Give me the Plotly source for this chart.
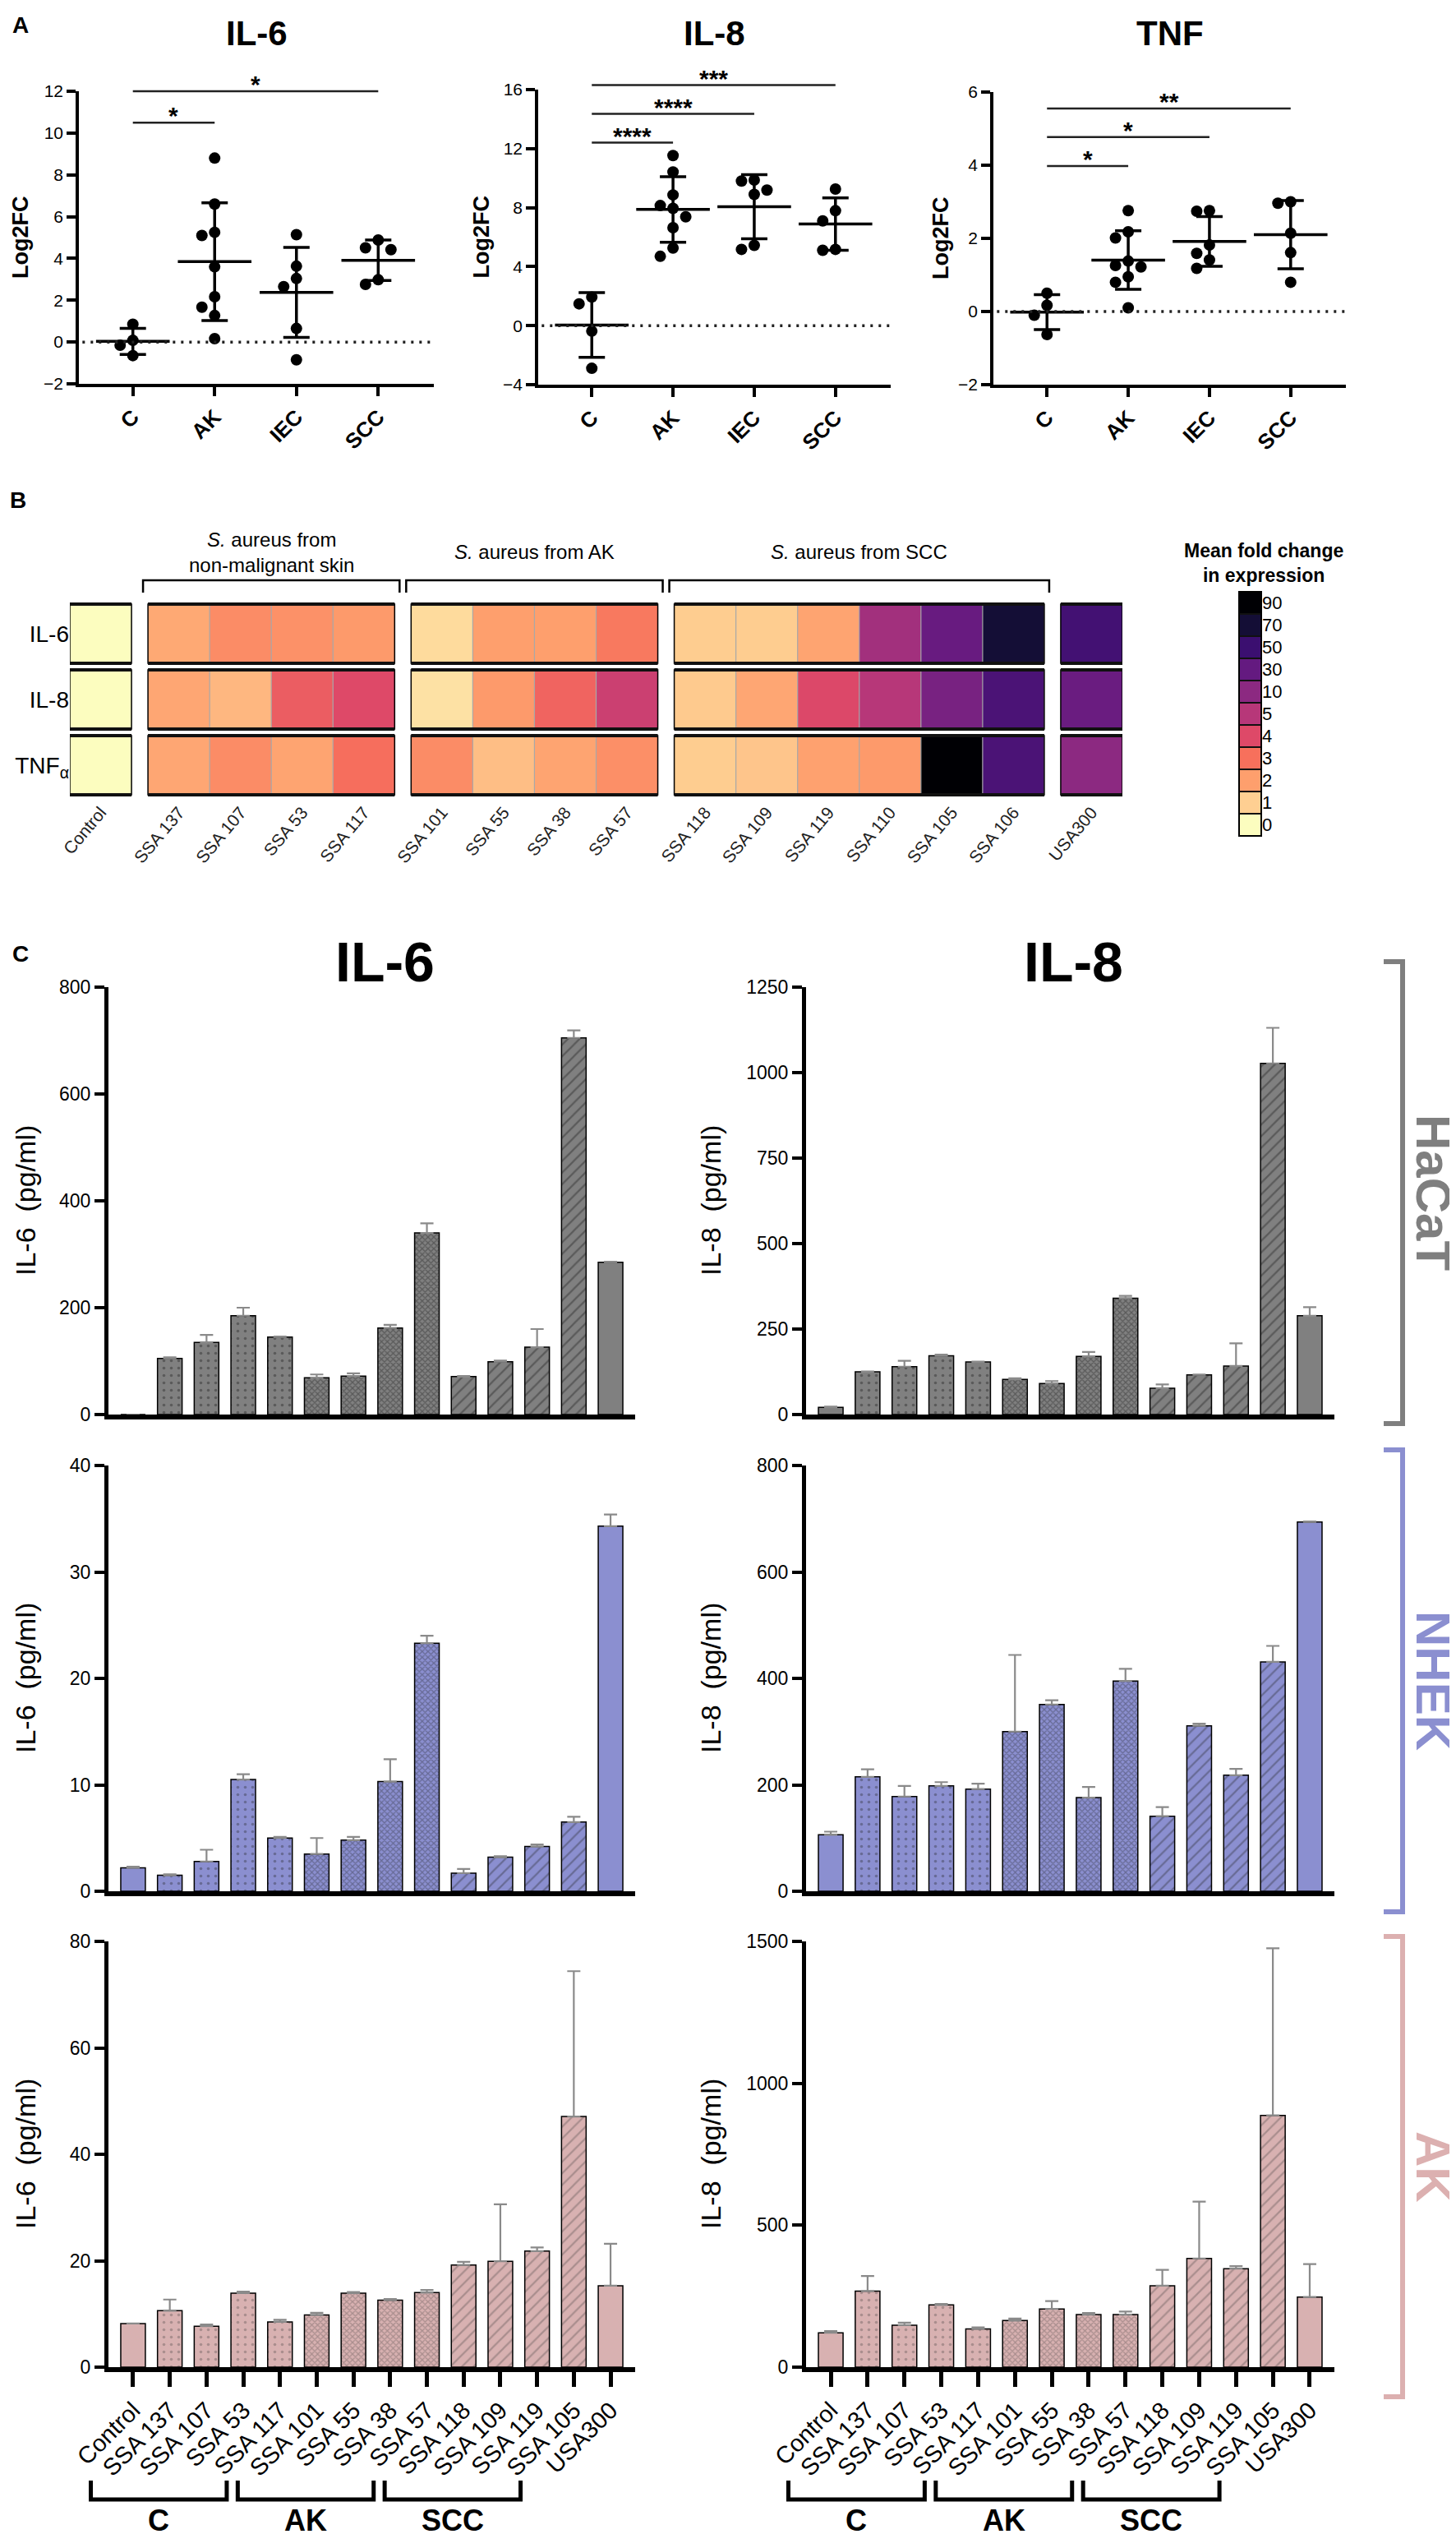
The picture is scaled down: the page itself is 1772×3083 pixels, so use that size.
import numpy as np
import plotly.graph_objects as go

W, H = 1772, 3083
FONT = "Liberation Sans, Arial, sans-serif"

# ---------------- Panel A data (Log2FC) ----------------
a_groups = ["C", "AK", "IEC", "SCC"]
il6_C = [0.85, 0.08, -0.15, -0.65]
il6_AK = [8.8, 6.6, 5.1, 5.25, 3.6, 2.17, 1.67, 1.27, 0.16]
il6_IEC = [5.14, 3.63, 3.04, 2.65, 0.65, -0.85]
il6_SCC = [4.88, 4.42, 4.51, 2.98, 2.76]
il8_C = [1.48, 1.94, -0.37, -2.89]
il8_AK = [11.53, 10.42, 8.86, 7.95, 8.14, 7.38, 6.64, 5.26, 4.7]
il8_IEC = [9.87, 9.8, 9.19, 8.9, 5.17, 5.44]
il8_SCC = [9.26, 7.79, 7.1, 5.17, 5.11]
tnf_C = [0.5, 0.17, -0.1, -0.63]
tnf_AK = [2.76, 2.18, 2.01, 1.38, 1.22, 1.26, 0.95, 0.8, 0.1]
tnf_IEC = [2.74, 2.76, 1.82, 1.59, 1.41, 1.18]
tnf_SCC = [3.0, 2.96, 2.14, 1.61, 0.8]
# significance: (compared group index vs C, bar level, label)
sig_il6 = [(1, 10.5, "*"), (3, 12.0, "*")]
sig_il8 = [(1, 12.4, "****"), (2, 14.35, "****"), (3, 16.3, "***")]
sig_tnf = [(1, 3.98, "*"), (2, 4.77, "*"), (3, 5.55, "**")]

# ---------------- Panel B data (mean fold change) ----------------
hm_columns = ["Control", "SSA 137", "SSA 107", "SSA 53", "SSA 117",
              "SSA 101", "SSA 55", "SSA 38", "SSA 57",
              "SSA 118", "SSA 109", "SSA 119", "SSA 110", "SSA 105", "SSA 106",
              "USA300"]
hm_group_sizes = [1, 4, 4, 6, 1]
hm_group_titles = ["", "<i>S.</i> aureus from<br>non-malignant skin",
                   "<i>S.</i> aureus from AK", "<i>S.</i> aureus from SCC", ""]
hm_rows = ["IL-6", "IL-8", "TNF<sub>α</sub>"]
hm_il6 = [0, 1.8, 2.4, 2.3, 2.1, 0.75, 2.0, 2.0, 2.8, 1.05, 1.05, 1.9, 7.5, 28, 70, 46]
hm_il8 = [0, 1.85, 1.5, 3.5, 4.0, 0.6, 2.1, 3.3, 4.5, 1.1, 1.85, 4.05, 5.05, 20, 42, 27]
hm_tnf = [0, 1.85, 2.4, 1.9, 3.05, 2.4, 1.35, 1.9, 2.35, 1.05, 1.2, 1.95, 2.1, 90, 42, 10]
cb_levels = [0, 1, 2, 3, 4, 5, 10, 30, 50, 70, 90]
magma = ["#fcfdbf", "#fecf92", "#fe9f6d", "#f7705c", "#de4968", "#b73779",
         "#8c2981", "#641a80", "#3b0f70", "#140e36", "#000004"]

# ---------------- Panel C data (pg/ml, mean and upper error) ----------------
c_strains = ["Control", "SSA 137", "SSA 107", "SSA 53", "SSA 117", "SSA 101", "SSA 55",
             "SSA 38", "SSA 57", "SSA 118", "SSA 109", "SSA 119", "SSA 105", "USA300"]
c_source = ["", "C", "C", "C", "C", "AK", "AK", "AK", "AK", "SCC", "SCC", "SCC", "SCC", ""]
hacat_il6 = [0, 105, 135, 185, 145, 69, 72, 162, 340, 71, 99, 126, 705, 285]
hacat_il6_err = [0, 2, 14, 15, 1, 6, 5, 6, 18, 1, 2, 34, 14, 1]
hacat_il8 = [21, 125, 140, 172, 154, 103, 91, 170, 340, 77, 116, 142, 1027, 289]
hacat_il8_err = [2, 1, 17, 3, 1, 3, 7, 13, 7, 11, 1, 66, 104, 25]
nhek_il6 = [2.2, 1.5, 2.8, 10.5, 5.0, 3.5, 4.8, 10.3, 23.3, 1.7, 3.2, 4.2, 6.5, 34.3]
nhek_il6_err = [0.1, 0.1, 1.1, 0.5, 0.1, 1.5, 0.3, 2.1, 0.7, 0.4, 0.1, 0.2, 0.5, 1.1]
nhek_il8 = [106, 215, 178, 198, 192, 300, 351, 176, 395, 141, 311, 218, 431, 694]
nhek_il8_err = [6, 14, 20, 7, 10, 144, 8, 20, 23, 17, 4, 12, 30, 1]
ak_il6 = [8.2, 10.6, 7.7, 13.9, 8.5, 9.8, 13.9, 12.6, 14.0, 19.2, 19.9, 21.8, 47.1, 15.3]
ak_il6_err = [0, 2.1, 0.3, 0.3, 0.4, 0.4, 0.2, 0.2, 0.5, 0.6, 10.7, 0.7, 27.3, 7.9]
ak_il8 = [121, 268, 148, 219, 135, 164, 205, 185, 185, 287, 383, 347, 887, 247]
ak_il8_err = [6, 53, 9, 4, 5, 7, 28, 6, 11, 56, 200, 9, 589, 116]

# ======================================================================
fig = go.Figure()
axes = {}
shapes = []
annos = []


def X(px):
    return px / W


def Y(py):
    return 1 - py / H


def an(n):
    return "" if n == 1 else str(n)


def add_axes(n, xpx, ypx, xr, yr, xkw=None, ykw=None):
    xa = dict(domain=[X(xpx[0]), X(xpx[1])], range=xr, anchor="y" + an(n),
              showgrid=False, zeroline=False, automargin=False)
    ya = dict(domain=[Y(ypx[1]), Y(ypx[0])], range=yr, anchor="x" + an(n),
              showgrid=False, zeroline=False, automargin=False)
    xa.update(xkw or {})
    ya.update(ykw or {})
    axes["xaxis" + an(n)] = xa
    axes["yaxis" + an(n)] = ya
    return "x" + an(n), "y" + an(n)


def text(xpx, ypx, s, size, bold=False, color="black", angle=0, xanchor="center",
         yanchor="middle", yshift=0):
    if bold:
        s = "<b>" + s + "</b>"
    annos.append(dict(x=X(xpx), y=Y(ypx), xref="paper", yref="paper", text=s,
                      showarrow=False, textangle=angle, xanchor=xanchor, yanchor=yanchor,
                      yshift=yshift, font=dict(size=size, color=color, family=FONT)))


def swarm(vals, px_cat, px_unit, diam=14.5, step=15.5):
    order = np.argsort(vals)[::-1]
    placed = []
    offs = [0.0] * len(vals)
    for i in order:
        y = vals[i] * px_unit
        x = 0.0
        for k in [0, -1, 1, -2, 2, -3, 3]:
            x = k * step
            if all((x - p) ** 2 + (y - q) ** 2 >= diam ** 2 for p, q in placed):
                break
        placed.append((x, y))
        offs[i] = x / px_cat
    return offs


# ---------------- Panel A ----------------
XR_A = [-0.66, 3.68]
a_panels = [
    dict(title="IL-6", data=[il6_C, il6_AK, il6_IEC, il6_SCC], yr=[-2, 12], dt=2,
         sig=sig_il6, xpx=(88, 520), ypx=(103, 459), ylab=17),
    dict(title="IL-8", data=[il8_C, il8_AK, il8_IEC, il8_SCC], yr=[-4, 16], dt=4,
         sig=sig_il8, xpx=(647, 1076), ypx=(101, 460), ylab=578),
    dict(title="TNF", data=[tnf_C, tnf_AK, tnf_IEC, tnf_SCC], yr=[-2, 6], dt=2,
         sig=sig_tnf, xpx=(1201, 1630), ypx=(104, 460), ylab=1137),
]
for i, p in enumerate(a_panels):
    n = i + 1
    xr_, yr_ = add_axes(
        n, p["xpx"], p["ypx"], XR_A, p["yr"],
        xkw=dict(showline=True, linewidth=3.5, linecolor="black", ticks="outside",
                 ticklen=11, tickwidth=3.5, tickcolor="black",
                 tickvals=list(range(4)), ticktext=["<b>%s</b>" % g for g in a_groups],
                 tickangle=-45, tickfont=dict(size=26, family=FONT, color="black")),
        ykw=dict(showline=True, linewidth=3.5, linecolor="black", ticks="outside",
                 ticklen=11, tickwidth=3.5, tickcolor="black",
                 tickvals=list(range(p["yr"][0], p["yr"][1] + 1, p["dt"])),
                 tickfont=dict(size=21, family=FONT, color="black")))
    px_cat = (p["xpx"][1] - p["xpx"][0]) / (XR_A[1] - XR_A[0])
    px_unit = (p["ypx"][1] - p["ypx"][0]) / (p["yr"][1] - p["yr"][0])

    def cxp(u, p=p, px_cat=px_cat):
        return p["xpx"][0] + (u - XR_A[0]) * px_cat

    def cyp(v, p=p, px_unit=px_unit):
        return p["ypx"][1] - (v - p["yr"][0]) * px_unit

    shapes.append(dict(type="line", xref=xr_ + " domain", yref=yr_, x0=0.01, x1=1,
                       y0=0, y1=0, line=dict(color="#222", width=3.5, dash="3px,7px")))
    for gi, vals in enumerate(p["data"]):
        offs = swarm(vals, px_cat, px_unit)
        fig.add_trace(go.Scatter(x=[gi + o for o in offs], y=vals, mode="markers",
                                 marker=dict(size=14, color="black"), xaxis=xr_, yaxis=yr_,
                                 showlegend=False, hoverinfo="skip"))
        m = float(np.mean(vals))
        sd = float(np.std(vals, ddof=1))
        fig.add_trace(go.Scatter(x=[gi], y=[m], mode="markers",
                                 marker=dict(symbol="line-ew", size=64, color="black",
                                             line=dict(width=3.5, color="black")),
                                 error_y=dict(type="data", array=[sd], color="black",
                                              thickness=3.5, width=16),
                                 xaxis=xr_, yaxis=yr_, showlegend=False, hoverinfo="skip"))
    for (to, lvl, stars) in p["sig"]:
        yy = Y(cyp(lvl))
        shapes.append(dict(type="line", xref="paper", yref="paper",
                           x0=X(cxp(0)), x1=X(cxp(to)), y0=yy, y1=yy,
                           line=dict(color="#222", width=2.5)))
        text(cxp(to / 2.0), cyp(lvl), stars, 30, bold=True, yanchor="bottom", yshift=-10)
    text((p["xpx"][0] + p["xpx"][1]) / 2, 33, p["title"], 42, bold=True)
    text(p["ylab"], (p["ypx"][0] + p["ypx"][1]) / 2, "Log2FC", 27, bold=True, angle=-90)

text(17, 23, "A", 28, bold=True)

# ---------------- Panel B ----------------
text(14, 600, "B", 28, bold=True)
gapu = 20 / 75.0
starts = []
s = 0.0
for n_ in hm_group_sizes:
    starts.append(s)
    s += n_ + gapu
total = s - gapu
HX = (77, 1358)
HY = (723, 963)


def hx(u):
    return HX[0] + u / total * (HX[1] - HX[0])


idx = list(range(len(cb_levels)))
Z = np.array([[float(np.interp(v, cb_levels, idx)) for v in row]
              for row in [hm_il6, hm_il8, hm_tnf]])
centers = []
for k, n_ in enumerate(hm_group_sizes):
    centers += [starts[k] + 0.5 + j for j in range(n_)]

hxr, hyr = add_axes(
    4, HX, HY, [0, total], [2.5, -0.5],
    xkw=dict(showline=False, ticks="", tickvals=centers, ticktext=hm_columns,
             tickangle=-50, tickfont=dict(size=21, family=FONT, color="#222")),
    ykw=dict(showline=False, ticks="", tickvals=[0, 1, 2], ticktext=hm_rows,
             tickfont=dict(size=28, family=FONT, color="black")))

col = 0
for k, n_ in enumerate(hm_group_sizes):
    xs = [starts[k] + 0.5 + j for j in range(n_)]
    fig.add_trace(go.Heatmap(x=xs, y=[0, 1, 2], z=Z[:, col:col + n_], coloraxis="coloraxis",
                             ygap=8, xaxis=hxr, yaxis=hyr, hoverinfo="skip"))
    col += n_
    for r in range(3):
        y0, y1 = r - 0.45, r + 0.45
        x0, x1 = starts[k], starts[k] + n_
        for j in range(1, n_):
            shapes.append(dict(type="line", xref=hxr, yref=hyr, x0=x0 + j, x1=x0 + j,
                               y0=y0, y1=y1, line=dict(color="#a8a8a8", width=1.2)))
        shapes.append(dict(type="rect", xref=hxr, yref=hyr, x0=x0, x1=x1, y0=y0, y1=y1,
                           line=dict(color="black", width=1.5)))
        for yy in (y0, y1):
            shapes.append(dict(type="line", xref=hxr, yref=hyr, x0=x0, x1=x1, y0=yy, y1=yy,
                               line=dict(color="#111", width=4)))
    if hm_group_titles[k]:
        bx0 = X(hx(starts[k]) - 6)
        bx1 = X(hx(starts[k] + n_) + 6)
        ya_, yb_ = Y(713), Y(698)
        shapes.append(dict(type="path", xref="paper", yref="paper",
                           path="M %f,%f L %f,%f L %f,%f L %f,%f" % (bx0, ya_, bx0, yb_, bx1, yb_, bx1, ya_),
                           line=dict(color="black", width=2.5)))
        text(hx(starts[k] + n_ / 2.0), 664, hm_group_titles[k], 24)

# colour key
cxr, cyr = add_axes(
    5, (1500, 1527), (712, 1009), [-0.5, 0.5], [-0.5, len(cb_levels) - 0.5],
    xkw=dict(visible=False),
    ykw=dict(side="right", showline=False, ticks="", tickvals=idx,
             ticktext=[str(v) for v in cb_levels],
             tickfont=dict(size=22, family=FONT, color="black")))
shapes.append(dict(type="rect", xref=cxr + " domain", yref=cyr + " domain", x0=0, x1=1,
                   y0=0, y1=1, fillcolor="#111", line=dict(width=0), layer="below"))
fig.add_trace(go.Heatmap(x=[0], y=idx, z=[[v] for v in idx], coloraxis="coloraxis", ygap=2,
                         xaxis=cxr, yaxis=cyr, hoverinfo="skip"))
shapes.append(dict(type="rect", xref=cxr + " domain", yref=cyr + " domain", x0=0, x1=1,
                   y0=0, y1=1, line=dict(color="black", width=2)))
text(1530, 677, "Mean fold change<br>in expression", 23, bold=True)

# ---------------- Panel C ----------------
text(17, 1152, "C", 28, bold=True)
text(460, 1162, "IL-6", 68, bold=True)
text(1298, 1162, "IL-8", 68, bold=True)

XR_C = [-0.67, 13.67]
c_pattern = ["", ".", ".", ".", ".", "x", "x", "x", "x", "/", "/", "/", "/", ""]
c_psize = [8, 9, 9, 9, 9, 5, 5, 5, 5, 10, 10, 10, 10, 8]
c_psol = [0.1, 0.13, 0.13, 0.13, 0.13, 0.45, 0.45, 0.45, 0.45, 0.22, 0.22, 0.22, 0.22, 0.1]
LEFT = (124, 765)
RIGHT = (973, 1616)
c_rows = [
    dict(name="HaCaT", ypx=(1193, 1713), il6=(hacat_il6, hacat_il6_err, 800, 200),
         il8=(hacat_il8, hacat_il8_err, 1250, 250), color="#808080", fg="#333333",
         tcolor="#7f7f7f", br=(1162, 1724)),
    dict(name="NHEK", ypx=(1775, 2293), il6=(nhek_il6, nhek_il6_err, 40, 10),
         il8=(nhek_il8, nhek_il8_err, 800, 200), color="#8b8fd0", fg="#44465a",
         tcolor="#8b8fd0", br=(1756, 2318)),
    dict(name="AK", ypx=(2354, 2872), il6=(ak_il6, ak_il6_err, 80, 20),
         il8=(ak_il8, ak_il8_err, 1500, 500), color="#d8b1b1", fg="#7a6a6a",
         tcolor="#dcb0b0", br=(2348, 2908)),
]
n = 6
for ri, row in enumerate(c_rows):
    last = ri == len(c_rows) - 1
    for ci, (key, xpx, ylabx, ytitle) in enumerate(
            [("il6", LEFT, 23, "IL-6 (pg/ml)"), ("il8", RIGHT, 857, "IL-8 (pg/ml)")]):
        vals, err, ymax, dt = row[key]
        xkw = dict(showline=True, linewidth=6, linecolor="black")
        if last:
            xkw.update(ticks="outside", ticklen=18, tickwidth=5, tickcolor="black",
                       tickvals=list(range(len(c_strains))), ticktext=c_strains,
                       tickangle=-45, tickfont=dict(size=29, family=FONT, color="black"))
        else:
            xkw.update(ticks="", showticklabels=False)
        ykw = dict(showline=True, linewidth=5, linecolor="black", ticks="outside",
                   ticklen=12, tickwidth=4, tickcolor="black",
                   tickvals=list(range(0, ymax + 1, dt)),
                   tickfont=dict(size=23, family=FONT, color="black"))
        xr_, yr_ = add_axes(n, xpx, row["ypx"], XR_C, [0, ymax], xkw, ykw)
        fig.add_trace(go.Bar(
            x=list(range(len(c_strains))), y=vals, width=0.67, xaxis=xr_, yaxis=yr_,
            marker=dict(color=row["color"], line=dict(color="black", width=1.5),
                        pattern=dict(shape=c_pattern, fgcolor=row["fg"], size=c_psize,
                                     solidity=c_psol)),
            error_y=dict(type="data", symmetric=False, array=err,
                         arrayminus=[0] * len(err), color="#8a8a8a", thickness=2.2, width=8),
            showlegend=False, hoverinfo="skip"))
        text(ylabx, (row["ypx"][0] + row["ypx"][1]) / 2, ytitle.replace(" ", "&nbsp;&nbsp;", 1),
             34, angle=-90)
        if last:
            px_cat = (xpx[1] - xpx[0]) / (XR_C[1] - XR_C[0])

            def cx(u, xpx=xpx, px_cat=px_cat):
                return xpx[0] + (u - XR_C[0]) * px_cat
            for g in ["C", "AK", "SCC"]:
                members = [i for i, s_ in enumerate(c_source) if s_ == g]
                x0 = X(cx(members[0] - 2.15))
                x1 = X(cx(members[-1] - 1.45))
                ya_, yb_ = Y(3010), Y(3033)
                shapes.append(dict(type="path", xref="paper", yref="paper",
                                   path="M %f,%f L %f,%f L %f,%f L %f,%f" % (x0, ya_, x0, yb_, x1, yb_, x1, ya_),
                                   line=dict(color="black", width=5)))
                text((cx(members[0] - 2.15) + cx(members[-1] - 1.45)) / 2, 3058, g, 36, bold=True)
        n += 1
    # side bracket
    b0, b1 = row["br"]
    shapes.append(dict(type="path", xref="paper", yref="paper",
                       path="M %f,%f L %f,%f L %f,%f L %f,%f" % (X(1676), Y(b0), X(1699), Y(b0), X(1699), Y(b1), X(1676), Y(b1)),
                       line=dict(color=row["tcolor"], width=6)))
    text(1737, (b0 + b1) / 2, row["name"], 60, bold=True, color=row["tcolor"], angle=90)

fig.update_layout(
    width=W, height=H, margin=dict(l=0, r=0, t=0, b=0),
    paper_bgcolor="white", plot_bgcolor="white", showlegend=False,
    font=dict(family=FONT, color="black"),
    coloraxis=dict(colorscale=[[k / 10.0, magma[k]] for k in range(11)], cmin=0, cmax=10,
                   showscale=False),
    shapes=shapes, annotations=annos, **axes)

fig.write_html("out.html")
